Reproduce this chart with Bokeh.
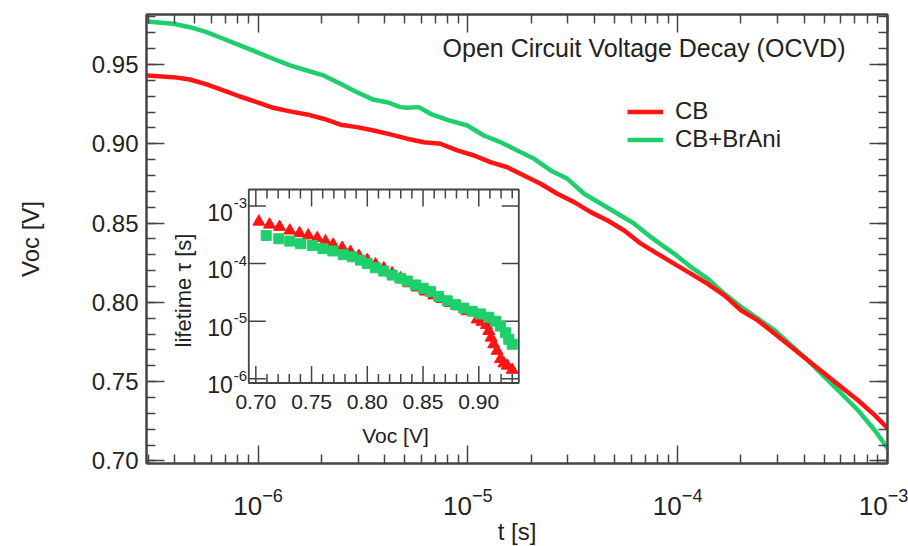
import math
from bokeh.plotting import figure
from bokeh.models import (Range1d, LinearScale, LogScale, LogAxis, LinearAxis,
                          SingleIntervalTicker, FixedTicker, PrintfTickFormatter,
                          Legend, LegendItem, Label)
from bokeh.embed import file_html
from bokeh.resources import INLINE
from bokeh.core.properties import value

# ---------------- data ----------------
# main plot: Voc decay
cb_t = [2.95e-7, 3.94e-7, 4.73e-7, 5.69e-7, 6.83e-7, 8.2e-7, 9.86e-7, 1.18e-6, 1.42e-6,
        1.71e-6, 2.05e-6, 2.47e-6, 2.96e-6, 3.56e-6, 4.27e-6, 5.13e-6, 6.17e-6, 7.40e-6,
        8.9e-6, 1.07e-5, 1.28e-5, 1.54e-5, 1.85e-5, 2.22e-5, 2.67e-5, 3.21e-5, 3.85e-5,
        4.63e-5, 5.56e-5, 6.68e-5, 8.03e-5, 9.64e-5, 1.16e-4, 1.39e-4, 1.67e-4, 2.01e-4,
        2.41e-4, 2.90e-4, 3.48e-4, 4.18e-4, 5.02e-4, 6.04e-4, 7.25e-4, 8.71e-4, 1.0e-3]
cb_v = [0.9431, 0.9420, 0.9405, 0.9374, 0.9336, 0.9298, 0.9262, 0.9227, 0.9204,
        0.9185, 0.9158, 0.9120, 0.9105, 0.9084, 0.9059, 0.9032, 0.9010, 0.9000,
        0.8958, 0.8926, 0.8884, 0.8852, 0.8800, 0.8748, 0.8685, 0.8632, 0.8569,
        0.8516, 0.8453, 0.8370, 0.8306, 0.8243, 0.8180, 0.8117, 0.8044, 0.7949,
        0.7886, 0.7802, 0.7718, 0.7634, 0.7550, 0.7465, 0.7381, 0.7287, 0.7207]

br_t = [2.95e-7, 3.94e-7, 4.73e-7, 5.69e-7, 6.83e-7, 8.2e-7, 9.86e-7, 1.18e-6, 1.42e-6,
        1.71e-6, 2.05e-6, 2.47e-6, 2.96e-6, 3.56e-6, 4.12e-6, 4.77e-6, 5.13e-6, 5.83e-6,
        6.64e-6, 7.98e-6, 9.94e-6, 1.19e-5, 1.43e-5, 1.72e-5, 2.07e-5, 2.48e-5, 2.98e-5,
        3.58e-5, 4.31e-5, 5.18e-5, 6.21e-5, 7.46e-5, 8.03e-5, 9.64e-5, 1.16e-4, 1.39e-4,
        1.67e-4, 2.01e-4, 2.41e-4, 2.90e-4, 3.48e-4, 4.18e-4, 5.02e-4, 6.04e-4, 7.25e-4,
        8.71e-4, 1.0e-3]
br_v = [0.9771, 0.9757, 0.9735, 0.9704, 0.9662, 0.9620, 0.9578, 0.9536, 0.9494,
        0.9462, 0.9431, 0.9378, 0.9325, 0.9277, 0.9262, 0.9231, 0.9227, 0.9231,
        0.9189, 0.9151, 0.9115, 0.9052, 0.9010, 0.8958, 0.8905, 0.8832, 0.8779,
        0.8685, 0.8622, 0.8559, 0.8496, 0.8411, 0.8380, 0.8306, 0.8222, 0.8149,
        0.8054, 0.7970, 0.7897, 0.7823, 0.7728, 0.7634, 0.7528, 0.7424, 0.7318,
        0.7192, 0.7080]

# inset: lifetime vs Voc
cb_iv = [0.7027, 0.7123, 0.7213, 0.7305, 0.7392, 0.7470, 0.7551, 0.7625, 0.7694,
         0.7775, 0.7849, 0.7924, 0.7999, 0.8074, 0.8148, 0.8223, 0.8298, 0.8372,
         0.8447, 0.8522, 0.8596, 0.8671, 0.8746, 0.8820, 0.8895, 0.8985, 0.9029,
         0.9068, 0.9090, 0.9111, 0.9134, 0.9164, 0.9195, 0.9225, 0.9255, 0.9300]
cb_tau = [5.35e-4, 4.75e-4, 4.34e-4, 3.75e-4, 3.37e-4, 3.08e-4, 2.77e-4, 2.43e-4,
          2.13e-4, 1.87e-4, 1.59e-4, 1.36e-4, 1.15e-4, 9.66e-5, 8.24e-5, 6.76e-5,
          5.55e-5, 4.55e-5, 3.84e-5, 3.27e-5, 2.80e-5, 2.42e-5, 2.07e-5, 1.81e-5,
          1.49e-5, 1.07e-5, 9.75e-6, 8.55e-6, 6.75e-6, 5.18e-6, 3.98e-6, 3.06e-6,
          2.20e-6, 1.85e-6, 1.69e-6, 1.43e-6]

br_iv = [0.7093, 0.7206, 0.7305, 0.7401, 0.7506, 0.7601, 0.7691, 0.7784, 0.7865,
         0.7939, 0.7999, 0.8074, 0.8148, 0.8223, 0.8298, 0.8358, 0.8432, 0.8501,
         0.8567, 0.8641, 0.8717, 0.8791, 0.8865, 0.8941, 0.9015, 0.9090, 0.9150,
         0.9195, 0.9240, 0.9269, 0.9300]
br_tau = [3.08e-4, 2.70e-4, 2.46e-4, 2.21e-4, 2.07e-4, 1.82e-4, 1.66e-4, 1.43e-4,
          1.31e-4, 1.15e-4, 1.00e-4, 8.45e-5, 7.41e-5, 6.32e-5, 5.55e-5, 4.99e-5,
          4.27e-5, 3.74e-5, 3.27e-5, 2.69e-5, 2.26e-5, 1.94e-5, 1.69e-5, 1.49e-5,
          1.34e-5, 1.17e-5, 1.00e-5, 8.22e-6, 6.31e-6, 4.85e-6, 3.98e-6]

series_names = ["CB", "CB+BrAni"]

x_major_ticks = [1e-6, 1e-5, 1e-4, 1e-3]
x_minor_ticks = [m * 10.0 ** e for e in (-7, -6, -5, -4) for m in range(2, 10)]
inset_x_major = [0.70, 0.75, 0.80, 0.85, 0.90]
inset_x_minor = [0.71, 0.72, 0.73, 0.74, 0.76, 0.77, 0.78, 0.79, 0.81, 0.82, 0.83, 0.84,
                 0.86, 0.87, 0.88, 0.89, 0.91, 0.92, 0.93]
inset_y_major = [1e-6, 1e-5, 1e-4, 1e-3]
inset_x_labels = ["0.70", "0.75", "0.80", "0.85", "0.90"]

# ---------------- style / layout ----------------
FONT = "Liberation Sans"
TXT = "#222222"
AX = "#444444"
RED = "#ff1414"
GREEN = "#1fcf6c"

W, H = 908, 546
FL, FR, FT, FB = 146, 887, 14, 463          # main frame (px)
X0, X1 = 2.94e-7, 1.0e-3
Y0, Y1 = 0.6984, 0.9815

IL, IR, IT, IB = 248.3, 518.3, 189.0, 382.5  # inset frame (px)
IX0, IX1 = 0.6937, 0.9359
IY0, IY1 = 10 ** -6.073, 10 ** -2.713

sx = (IX1 - IX0) / (IR - IL)
ly0, ly1 = math.log10(IY0), math.log10(IY1)
sy = (ly1 - ly0) / (IB - IT)
ix_range = Range1d(IX0 - (IL - FL) * sx, IX1 + (FR - IR) * sx)
iy_range = Range1d(10 ** (ly0 - (FB - IB) * sy), 10 ** (ly1 + (IT - FT) * sy))


def mx(px):
    a, b = math.log10(X0), math.log10(X1)
    return 10 ** (a + (px - FL) * (b - a) / (FR - FL))


def my(py):
    return Y0 + (FB - py) * (Y1 - Y0) / (FB - FT)


def ix(px):
    return IX0 + (px - IL) * sx


def iy(py):
    return 10 ** (ly0 + (IB - py) * sy)


p = figure(width=W, height=H, frame_width=FR - FL, frame_height=FB - FT,
           x_axis_type="log", x_range=Range1d(X0, X1), y_range=Range1d(Y0, Y1),
           extra_x_ranges={"ix": ix_range}, extra_x_scales={"ix": LinearScale()},
           extra_y_ranges={"iy": iy_range}, extra_y_scales={"iy": LogScale()},
           output_backend="svg", toolbar_location=None,
           min_border_left=FL, min_border_right=W - FR,
           min_border_top=FT, min_border_bottom=H - FB)
p.background_fill_color = "white"
p.border_fill_color = "white"
p.grid.visible = False
p.outline_line_color = AX
p.outline_line_width = 2

xt = FixedTicker(ticks=x_major_ticks, minor_ticks=x_minor_ticks)
yt = SingleIntervalTicker(interval=0.05, num_minor_ticks=5)


def style_axis(ax, show_labels):
    ax.axis_line_color = AX
    ax.axis_line_width = 2
    ax.major_tick_line_color = AX
    ax.minor_tick_line_color = AX
    ax.major_tick_line_width = 1.5
    ax.minor_tick_line_width = 1.5
    ax.major_tick_in = 18
    ax.major_tick_out = 0
    ax.minor_tick_in = 9
    ax.minor_tick_out = 0
    ax.major_label_text_font = FONT
    ax.major_label_text_color = TXT
    ax.axis_label_text_font = FONT
    ax.axis_label_text_font_style = "normal"
    ax.axis_label_text_color = TXT
    ax.axis_label_text_font_size = "24px"
    if show_labels:
        ax.major_label_text_font_size = "24px"
    else:
        ax.major_label_text_font_size = "2px"
        ax.major_label_text_alpha = 0
        ax.major_label_standoff = 0


xa = p.xaxis[0]
xa.ticker = xt
style_axis(xa, True)
xa.major_label_text_font_size = "26px"
xa.axis_label = "t [s]"
xa.major_label_standoff = 24
xa.axis_label_standoff = 0

ya = p.yaxis[0]
ya.ticker = yt
ya.formatter = PrintfTickFormatter(format="%.2f")
style_axis(ya, True)
ya.axis_label = "Voc [V]"
ya.major_label_standoff = 8
ya.axis_label_standoff = 45

top = LogAxis(ticker=xt)
style_axis(top, False)
p.add_layout(top, "above")
right = LinearAxis(ticker=yt)
style_axis(right, False)
p.add_layout(right, "right")

# main curves
r_br = p.line(br_t, br_v, line_color=GREEN, line_width=4.5)
r_cb = p.line(cb_t, cb_v, line_color=RED, line_width=4.5)

legend = Legend(items=[LegendItem(label=series_names[0], renderers=[r_cb]),
                       LegendItem(label=series_names[1], renderers=[r_br])],
                location=(627 - FL, FB - 153), margin=0, padding=0, spacing=0,
                glyph_width=36, glyph_height=25, label_height=25, label_standoff=12,
                label_text_font=FONT, label_text_font_size="24px", label_text_color=TXT,
                border_line_color=None, background_fill_alpha=0)
p.add_layout(legend)

p.add_layout(Label(x=mx(845), y=my(47), text="Open Circuit Voltage Decay (OCVD)",
                   text_align="right", text_baseline="middle", text_font=FONT,
                   text_font_size="25px", text_color=TXT))

# ---------------- inset ----------------
kw = dict(x_range_name="ix", y_range_name="iy")
p.quad(left=[IX0], right=[IX1], bottom=[IY0], top=[IY1], fill_color="white",
       line_color=AX, line_width=1.8, **kw)

MAJ, MIN = 17, 9
for ticks, ln in ((inset_x_major, MAJ), (inset_x_minor, MIN)):
    p.segment(x0=ticks, x1=ticks, y0=[IY0] * len(ticks),
              y1=[10 ** (ly0 + ln * sy)] * len(ticks), line_color=AX, line_width=1.5, **kw)
    p.segment(x0=ticks, x1=ticks, y0=[IY1] * len(ticks),
              y1=[10 ** (ly1 - ln * sy)] * len(ticks), line_color=AX, line_width=1.5, **kw)
n = len(inset_y_major)
p.segment(x0=[IX0] * n, x1=[IX0 + MAJ * sx] * n, y0=inset_y_major, y1=inset_y_major,
          line_color=AX, line_width=1.5, **kw)
p.segment(x0=[IX1] * n, x1=[IX1 - MAJ * sx] * n, y0=inset_y_major, y1=inset_y_major,
          line_color=AX, line_width=1.5, **kw)

p.scatter(cb_iv, cb_tau, marker="triangle", size=12, fill_color=RED, line_color=RED, **kw)
p.scatter(br_iv, br_tau, marker="square", size=10, fill_color=GREEN, line_color=GREEN, **kw)

p.text(x=inset_x_major, y=[IY0] * len(inset_x_major), text=inset_x_labels,
       text_align="center", text_baseline="middle", y_offset=19,
       text_font=value(FONT), text_font_size="21px", text_color=TXT, **kw)
p.text(x=[IX0] * n, y=inset_y_major, text=["10"] * n, text_align="right",
       text_baseline="middle", x_offset=-16, y_offset=6,
       text_font=value(FONT), text_font_size="23px", text_color=TXT, **kw)
p.text(x=[IX0] * n, y=inset_y_major,
       text=["%d" % round(math.log10(v)) for v in inset_y_major], text_align="left",
       text_baseline="middle", x_offset=-15, y_offset=-3,
       text_font=value(FONT), text_font_size="15px", text_color=TXT, **kw)
p.text(x=[ix(395)], y=[iy(435)], text=["Voc [V]"], text_align="center",
       text_baseline="middle", text_font=value(FONT), text_font_size="21px",
       text_color=TXT, **kw)
p.text(x=[ix(183)], y=[iy(290)], text=["lifetime \u03c4 [s]"], angle=math.pi / 2,
       text_align="center", text_baseline="middle", text_font=value(FONT),
       text_font_size="22px", text_color=TXT, **kw)

open("out.html", "w").write(file_html(p, INLINE))
